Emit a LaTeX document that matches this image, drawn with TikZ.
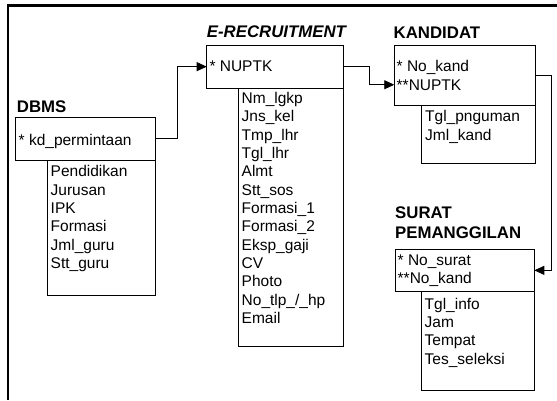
\documentclass[tikz,border=0pt]{standalone}
\usepackage{fontspec}
\setmainfont{Liberation Sans}
\usetikzlibrary{arrows.meta}
\tikzset{
  box/.style={draw=black, line width=0.8pt, inner sep=0pt, outer sep=0pt, anchor=north west},
  txt/.style={inner sep=0pt, anchor=base west, font=\fontsize{15.5}{18}\selectfont},
  ttl/.style={inner sep=0pt, anchor=base west, font=\fontsize{16.8}{20}\selectfont\bfseries},
  conn/.style={draw=black, line width=0.8pt, -{Triangle[length=10pt,width=9pt]}},
  frame/.style={draw=black, line width=2.5pt},
}
\begin{document}
\begin{tikzpicture}[x=1pt,y=-1pt]
\useasboundingbox (0,0) rectangle (557,400);
% outer frame (top and left)
\draw[frame] (557,5.5) -- (8,5.5) -- (8,400);

% ---------- DBMS ----------
\node[ttl] (dbmst) at (16.7,112.7) {DBMS};
\node[box, minimum width=139.3pt, minimum height=42.7pt] (dbmskey) at (15.7,117.3) {};
\node[box, minimum width=107.3pt, minimum height=135pt] (dbmsattr) at (47.7,160) {};
\node[txt] (dbmsk1) at (18.5,145.3) {* kd\_permintaan};
\foreach \t [count=\i from 0] in {Pendidikan,Jurusan,IPK,Formasi,Jml\_guru,Stt\_guru}
  \node[txt] (dbmsa\i) at (50.5,176.7+\i*18.36) {\t};

% ---------- E-RECRUITMENT ----------
\node[ttl, font=\fontsize{16.8}{20}\selectfont\bfseries\itshape] (ert) at (206.7,37.5) {E-RECRUITMENT};
\node[box, minimum width=136.6pt, minimum height=43.3pt] (erkey) at (206.7,45) {};
\node[box, minimum width=105pt, minimum height=258.4pt] (erattr) at (238.3,88.3) {};
\node[txt] (erk1) at (209.3,71.7) {* NUPTK};
\foreach \t [count=\i from 0] in {Nm\_lgkp,Jns\_kel,Tmp\_lhr,Tgl\_lhr,Almt,Stt\_sos,Formasi\_1,Formasi\_2,Eksp\_gaji,CV,Photo,No\_tlp\_/\_hp,Email}
  \node[txt] (era\i) at (241.5,103.3+\i*18.36) {\t};

% ---------- KANDIDAT ----------
\node[ttl] (kandt) at (393.5,38) {KANDIDAT};
\node[box, minimum width=140.7pt, minimum height=60pt] (kandkey) at (394.3,45) {};
\node[box, minimum width=113.3pt, minimum height=58.3pt] (kandattr) at (421.7,105) {};
\node[txt] (kandk1) at (396.5,71.7) {* No\_kand};
\node[txt] (kandk2) at (396.5,90) {**NUPTK};
\node[txt] (kanda0) at (425,121.7) {Tgl\_pnguman};
\node[txt] (kanda1) at (425,140) {Jml\_kand};

% ---------- SURAT PEMANGGILAN ----------
\node[ttl] (surt1) at (395,218.3) {SURAT};
\node[ttl] (surt2) at (395,238.3) {PEMANGGILAN};
\node[box, minimum width=139.3pt, minimum height=42.7pt] (surkey) at (395,249) {};
\node[box, minimum width=112.6pt, minimum height=99pt] (surattr) at (421.7,291.7) {};
\node[txt] (surk1) at (397.5,265) {* No\_surat};
\node[txt] (surk2) at (397.5,283.3) {**No\_kand};
\foreach \t [count=\i from 0] in {Tgl\_info,Jam,Tempat,Tes\_seleksi}
  \node[txt] (sura\i) at (424.5,309+\i*18.36) {\t};

% ---------- connectors ----------
\draw[conn] (dbmskey.east) -- ++(22.3,0) |- (erkey.west);
\draw[conn] (erkey.east) -- ++(25.7,0) |- (kandkey.west |- kandk2);
\draw[conn] (kandkey.east) -- ++(16.7,0) |- (surkey.east);
\end{tikzpicture}
\end{document}
